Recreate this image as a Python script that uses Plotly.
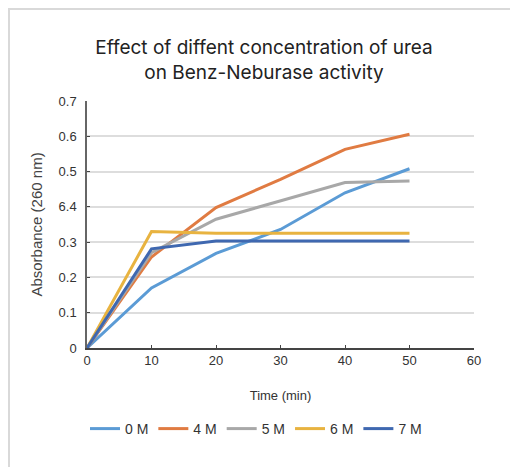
import plotly.graph_objects as go

time_min = [0, 10, 20, 30, 40, 50]
series_names = ["0 M", "4 M", "5 M", "6 M", "7 M"]
abs_0M = [0, 0.170, 0.268, 0.336, 0.440, 0.508]
abs_4M = [0, 0.258, 0.398, 0.478, 0.563, 0.606]
abs_5M = [0, 0.270, 0.365, 0.417, 0.469, 0.473]
abs_6M = [0, 0.330, 0.325, 0.325, 0.325, 0.325]
abs_7M = [0, 0.281, 0.303, 0.303, 0.303, 0.303]
y_tick_vals = [0, 0.1, 0.2, 0.3, 0.4, 0.5, 0.6, 0.7]
y_tick_text = ["0", "0.1", "0.2", "0.3", "6.4", "0.5", "0.6", "0.7"]
x_tick_vals = [0, 10, 20, 30, 40, 50, 60]

colors = ["#5B9BD5", "#E07B42", "#A8A8A8", "#E8B340", "#3F68B0"]
all_series = [abs_0M, abs_4M, abs_5M, abs_6M, abs_7M]

fig = go.Figure()
for name, vals, c in zip(series_names, all_series, colors):
    fig.add_trace(go.Scatter(x=time_min, y=vals, mode="lines", name=name,
                             line=dict(color=c, width=3)))

# page body has an 8px margin; work in reference coordinates minus 8
OFF = 8
W, H = 518 - OFF, 467 - OFF
L, T = 87 - OFF, 101 - OFF
R = W - (474 - OFF)
B = H - (348 - OFF)
pw, ph = W - L - R, H - T - B

def px(x):
    return (x - OFF - L) / pw

def py(y):
    return (H - B - (y - OFF)) / ph

fig.update_layout(
    width=W, height=H,
    margin=dict(l=L, r=R, t=T, b=B, autoexpand=False),
    paper_bgcolor="white", plot_bgcolor="white",
    font=dict(family="Liberation Sans, Arial, sans-serif", size=13, color="#333333"),
    title=dict(text="Effect of diffent concentration of urea<br>on Benz-Neburase activity",
               x=px(264), xref="paper", xanchor="center",
               y=1 - (54 - OFF) / H, yanchor="middle",
               font=dict(family="Inter, Open Sans, sans-serif", size=19, color="#222222")),
    xaxis=dict(range=[0, 60], tickvals=x_tick_vals, showgrid=False, zeroline=False,
               showline=True, linecolor="#444444", linewidth=1.5,
               ticks="inside", ticklen=3, tickcolor="#444444",
               title=dict(text="Time (min)", font=dict(size=13, color="#333333"), standoff=24),
               tickfont=dict(size=13, color="#333333")),
    yaxis=dict(range=[0, 0.7], tickvals=y_tick_vals, ticktext=y_tick_text,
               showgrid=True, gridcolor="#DDDDDD", gridwidth=1.5, zeroline=False,
               showline=True, linecolor="#666666", linewidth=1.5,
               ticks="inside", ticklen=3, tickcolor="#444444",
               ticklabelstandoff=6,
               title=dict(text="Absorbance (260 nm)", font=dict(size=15, color="#444444"), standoff=12),
               tickfont=dict(size=13, color="#333333")),
    legend=dict(orientation="h", x=px(256), xanchor="center", y=py(429), yanchor="middle",
                font=dict(size=14, color="#333333"), itemwidth=30, tracegroupgap=0),
    showlegend=True,
    shapes=[dict(type="rect", xref="paper", yref="paper",
                 x0=(1 - L) / pw, x1=(W + 50 - L) / pw, y0=-2, y1=(H - B - 1) / ph,
                 line=dict(color="#D9D9D9", width=2), fillcolor="rgba(0,0,0,0)", layer="below")],
)

fig.write_html("out.html")
